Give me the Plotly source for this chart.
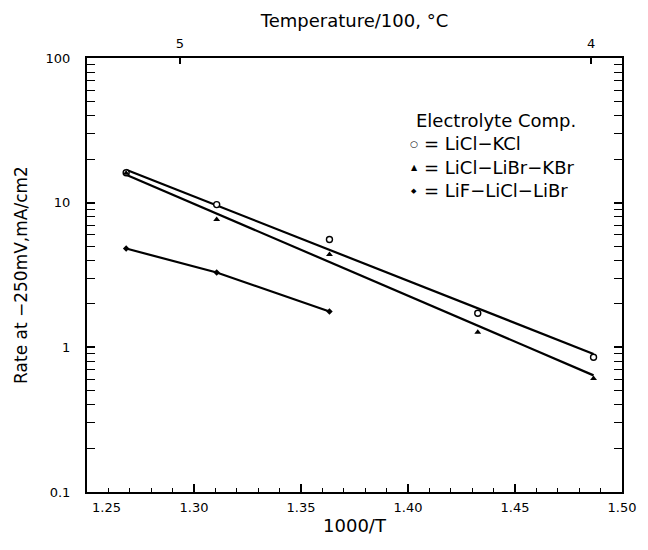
import plotly.graph_objects as go

# ---- data ----
inv_T_kcl = [1.2683, 1.3106, 1.3633, 1.4326, 1.4867]
rate_kcl = [16.1, 9.7, 5.56, 1.72, 0.853]

inv_T_kbr = [1.2683, 1.3106, 1.3633, 1.4326, 1.4867]
rate_kbr = [16.0, 7.64, 4.38, 1.27, 0.61]

inv_T_lif = [1.2683, 1.3106, 1.3633]
rate_lif = [4.82, 3.29, 1.77]

fit_x = [1.2683, 1.4867]
fit_kcl = [16.9, 0.90]
fit_kbr = [15.6, 0.64]

temp_c = [500, 400]          # top axis, degrees C
temp_labels = ["5", "4"]     # Temperature/100
x_ticks = [1.25, 1.30, 1.35, 1.40, 1.45, 1.50]
x_ticklabels = ["", "1.30", "1.35", "1.40", "1.45", "1.50"]
y_ticks = [0.1, 1, 10, 100]
y_ticklabels = ["0.1", "1", "10", "100"]

legend_title = "Electrolyte Comp."
names = ["= LiCl\u2212KCl", "= LiCl\u2212LiBr\u2212KBr", "= LiF\u2212LiCl\u2212LiBr"]
legend_glyphs = ["\u25cb", "\u25b2", "\u25c6"]

FONT = "DejaVu Sans"
fig = go.Figure()

# fitted lines
fig.add_trace(go.Scatter(x=fit_x, y=fit_kcl, mode="lines",
                         line=dict(color="black", width=2.2), showlegend=False))
fig.add_trace(go.Scatter(x=fit_x, y=fit_kbr, mode="lines",
                         line=dict(color="black", width=2.2), showlegend=False))
# LiF polyline
fig.add_trace(go.Scatter(x=inv_T_lif, y=rate_lif, mode="lines",
                         line=dict(color="black", width=2.2), showlegend=False))

# markers
fig.add_trace(go.Scatter(x=inv_T_kcl, y=rate_kcl, mode="markers", name=names[0],
                         marker=dict(symbol="circle", size=6, color="white",
                                     line=dict(color="black", width=1.4))))
fig.add_trace(go.Scatter(x=inv_T_kbr, y=rate_kbr, mode="markers", name=names[1],
                         marker=dict(symbol="triangle-up", size=6, color="black")))
fig.add_trace(go.Scatter(x=inv_T_lif, y=rate_lif, mode="markers", name=names[2],
                         marker=dict(symbol="diamond", size=5, color="black")))

# invisible trace for top axis
top_x = [1000.0 / (t + 273.15) for t in temp_c]
fig.add_trace(go.Scatter(x=top_x, y=[1, 1], xaxis="x2", mode="markers",
                         marker=dict(opacity=0), showlegend=False, hoverinfo="skip"))

# legend drawn as text block (like the original)
lx0 = 0.611
ann = [dict(xref="paper", yref="paper", x=lx0, y=0.855, xanchor="left", yanchor="middle",
            text=legend_title, showarrow=False, font=dict(size=18, family=FONT, color="black"))]
entry_y = [0.802, 0.747, 0.694]
glyph_sizes = [9, 8, 7]
for i in range(3):
    ann.append(dict(xref="paper", yref="paper", x=lx0 + 0.001, y=entry_y[i],
                    xanchor="center", yanchor="middle", text=legend_glyphs[i], showarrow=False,
                    font=dict(size=glyph_sizes[i], family=FONT, color="black")))
    ann.append(dict(xref="paper", yref="paper", x=lx0 + 0.016, y=entry_y[i],
                    xanchor="left", yanchor="middle", text=names[i], showarrow=False,
                    font=dict(size=18, family=FONT, color="black")))
# first bottom tick label offset to the right, as in the original
ann.append(dict(xref="x", yref="paper", x=1.2592, y=0, yshift=-15,
                xanchor="center", yanchor="middle", text="1.25", showarrow=False,
                font=dict(size=13, family=FONT, color="black")))

fig.update_layout(
    width=640, height=542,
    paper_bgcolor="white", plot_bgcolor="white",
    margin=dict(l=72, r=23, t=49, b=58),
    font=dict(family=FONT, color="black"),
    showlegend=False,
    annotations=ann,
    xaxis=dict(
        range=[1.25, 1.50], tickvals=x_ticks, ticktext=x_ticklabels,
        ticks="inside", ticklen=8, tickwidth=1.5, tickcolor="black",
        minor=dict(dtick=0.01, ticks="inside", ticklen=4, tickwidth=1.2, tickcolor="black", showgrid=False),
        showline=True, linecolor="black", linewidth=2, mirror=True,
        showgrid=False, zeroline=False,
        tickfont=dict(size=13, family=FONT),
        ticklabelstandoff=2,
        title=dict(text="1000/T", font=dict(size=18, family=FONT), standoff=6),
    ),
    xaxis2=dict(
        overlaying="x", side="top", range=[1.25, 1.50],
        tickvals=top_x, ticktext=temp_labels,
        ticks="inside", ticklen=6, tickwidth=1.5, tickcolor="black",
        showline=False, showgrid=False, zeroline=False,
        tickfont=dict(size=13, family=FONT),
        ticklabelstandoff=6,
        title=dict(text="Temperature/100, \u00b0C", font=dict(size=18, family=FONT), standoff=4),
    ),
    yaxis=dict(
        type="log", range=[-1, 2], tickvals=y_ticks, ticktext=y_ticklabels,
        ticks="inside", ticklen=8, tickwidth=1.5, tickcolor="black",
        minor=dict(dtick="D1", ticks="inside", ticklen=4, tickwidth=1.2, tickcolor="black", showgrid=False),
        showline=True, linecolor="black", linewidth=2, mirror="allticks",
        showgrid=False, zeroline=False,
        tickfont=dict(size=13, family=FONT),
        ticklabelstandoff=12,
        title=dict(text="Rate at \u2212250mV,mA/cm2", font=dict(size=17, family=FONT), standoff=14),
    ),
)

fig.write_html("out.html")
